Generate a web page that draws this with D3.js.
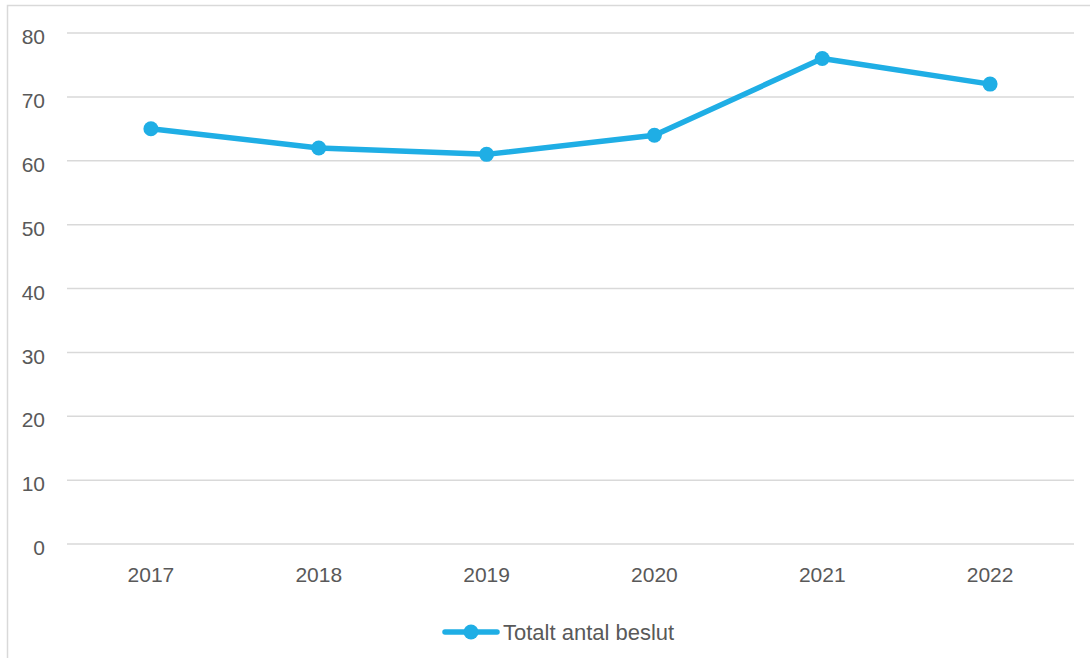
<!DOCTYPE html>
<html>
<head>
<meta charset="utf-8">
<script src="https://cdn.jsdelivr.net/npm/d3@7"></script>
<style>
  body { margin: 0; background: #fff; }
  svg { display: block; font-family: "Liberation Sans", "Open Sans", sans-serif; }
</style>
</head>
<body>
<div class="chart"></div>
<script>
var years = ["2017", "2018", "2019", "2020", "2021", "2022"];
var values = [65, 62, 61, 64, 76, 72];
var yTicks = [0, 10, 20, 30, 40, 50, 60, 70, 80];
var seriesName = "Totalt antal beslut";

var width = 1090, height = 658;
var plotLeft = 67, plotRight = 1074, plotTop = 33, plotBottom = 544;
var blue = "#1FAEE5", grey = "#595959";

var svg = d3.select(".chart")
  .append("svg")
  .attr("width", width)
  .attr("height", height);

// chart border
svg.append("rect")
  .attr("x", 7.5).attr("y", 5.5)
  .attr("width", width).attr("height", height)
  .attr("fill", "none")
  .attr("stroke", "#d9d9d9")
  .attr("stroke-width", 1.5);

var x = d3.scaleBand().domain(years).range([plotLeft, plotRight]);
var y = d3.scaleLinear().domain([0, 80]).range([plotBottom, plotTop]);

// gridlines
svg.append("g")
  .selectAll("line")
  .data(yTicks)
  .enter()
  .append("line")
  .attr("x1", plotLeft).attr("x2", plotRight)
  .attr("y1", function(d){ return y(d); })
  .attr("y2", function(d){ return y(d); })
  .attr("stroke", "#d9d9d9")
  .attr("stroke-width", 1.5);

// y labels
var yAxis = svg.append("g")
  .attr("transform", "translate(45,4)")
  .call(d3.axisLeft(y).tickValues(yTicks).tickSize(0).tickPadding(0));
yAxis.select(".domain").remove();
yAxis.selectAll("text")
  .attr("font-size", "21px")
  .attr("fill", grey)
  .attr("font-family", "Liberation Sans, sans-serif");

// x labels
var xAxis = svg.append("g")
  .attr("transform", "translate(0," + (plotBottom + 23) + ")")
  .call(d3.axisBottom(x).tickSize(0).tickPadding(0));
xAxis.select(".domain").remove();
xAxis.selectAll("text")
  .attr("font-size", "21px")
  .attr("fill", grey)
  .attr("font-family", "Liberation Sans, sans-serif");

var cx = function(d, i){ return x(years[i]) + x.bandwidth() / 2; };

var line = d3.line()
  .x(cx)
  .y(function(d){ return y(d); });

svg.append("path")
  .datum(values)
  .attr("d", line)
  .attr("fill", "none")
  .attr("stroke", blue)
  .attr("stroke-width", 5.5)
  .attr("stroke-linejoin", "round")
  .attr("stroke-linecap", "round");

svg.append("g")
  .selectAll("circle")
  .data(values)
  .enter()
  .append("circle")
  .attr("cx", cx)
  .attr("cy", function(d){ return y(d); })
  .attr("r", 7.5)
  .attr("fill", blue);

// legend
var legend = svg.append("g").attr("transform", "translate(445,632)");
legend.append("line")
  .attr("x1", 0).attr("x2", 52)
  .attr("y1", 0).attr("y2", 0)
  .attr("stroke", blue)
  .attr("stroke-width", 5.5)
  .attr("stroke-linecap", "round");
legend.append("circle")
  .attr("cx", 26).attr("cy", 0).attr("r", 7.5)
  .attr("fill", blue);
legend.append("text")
  .attr("x", 58).attr("y", 8)
  .attr("font-size", "22px")
  .attr("fill", grey)
  .text(seriesName);
</script>
</body>
</html>
